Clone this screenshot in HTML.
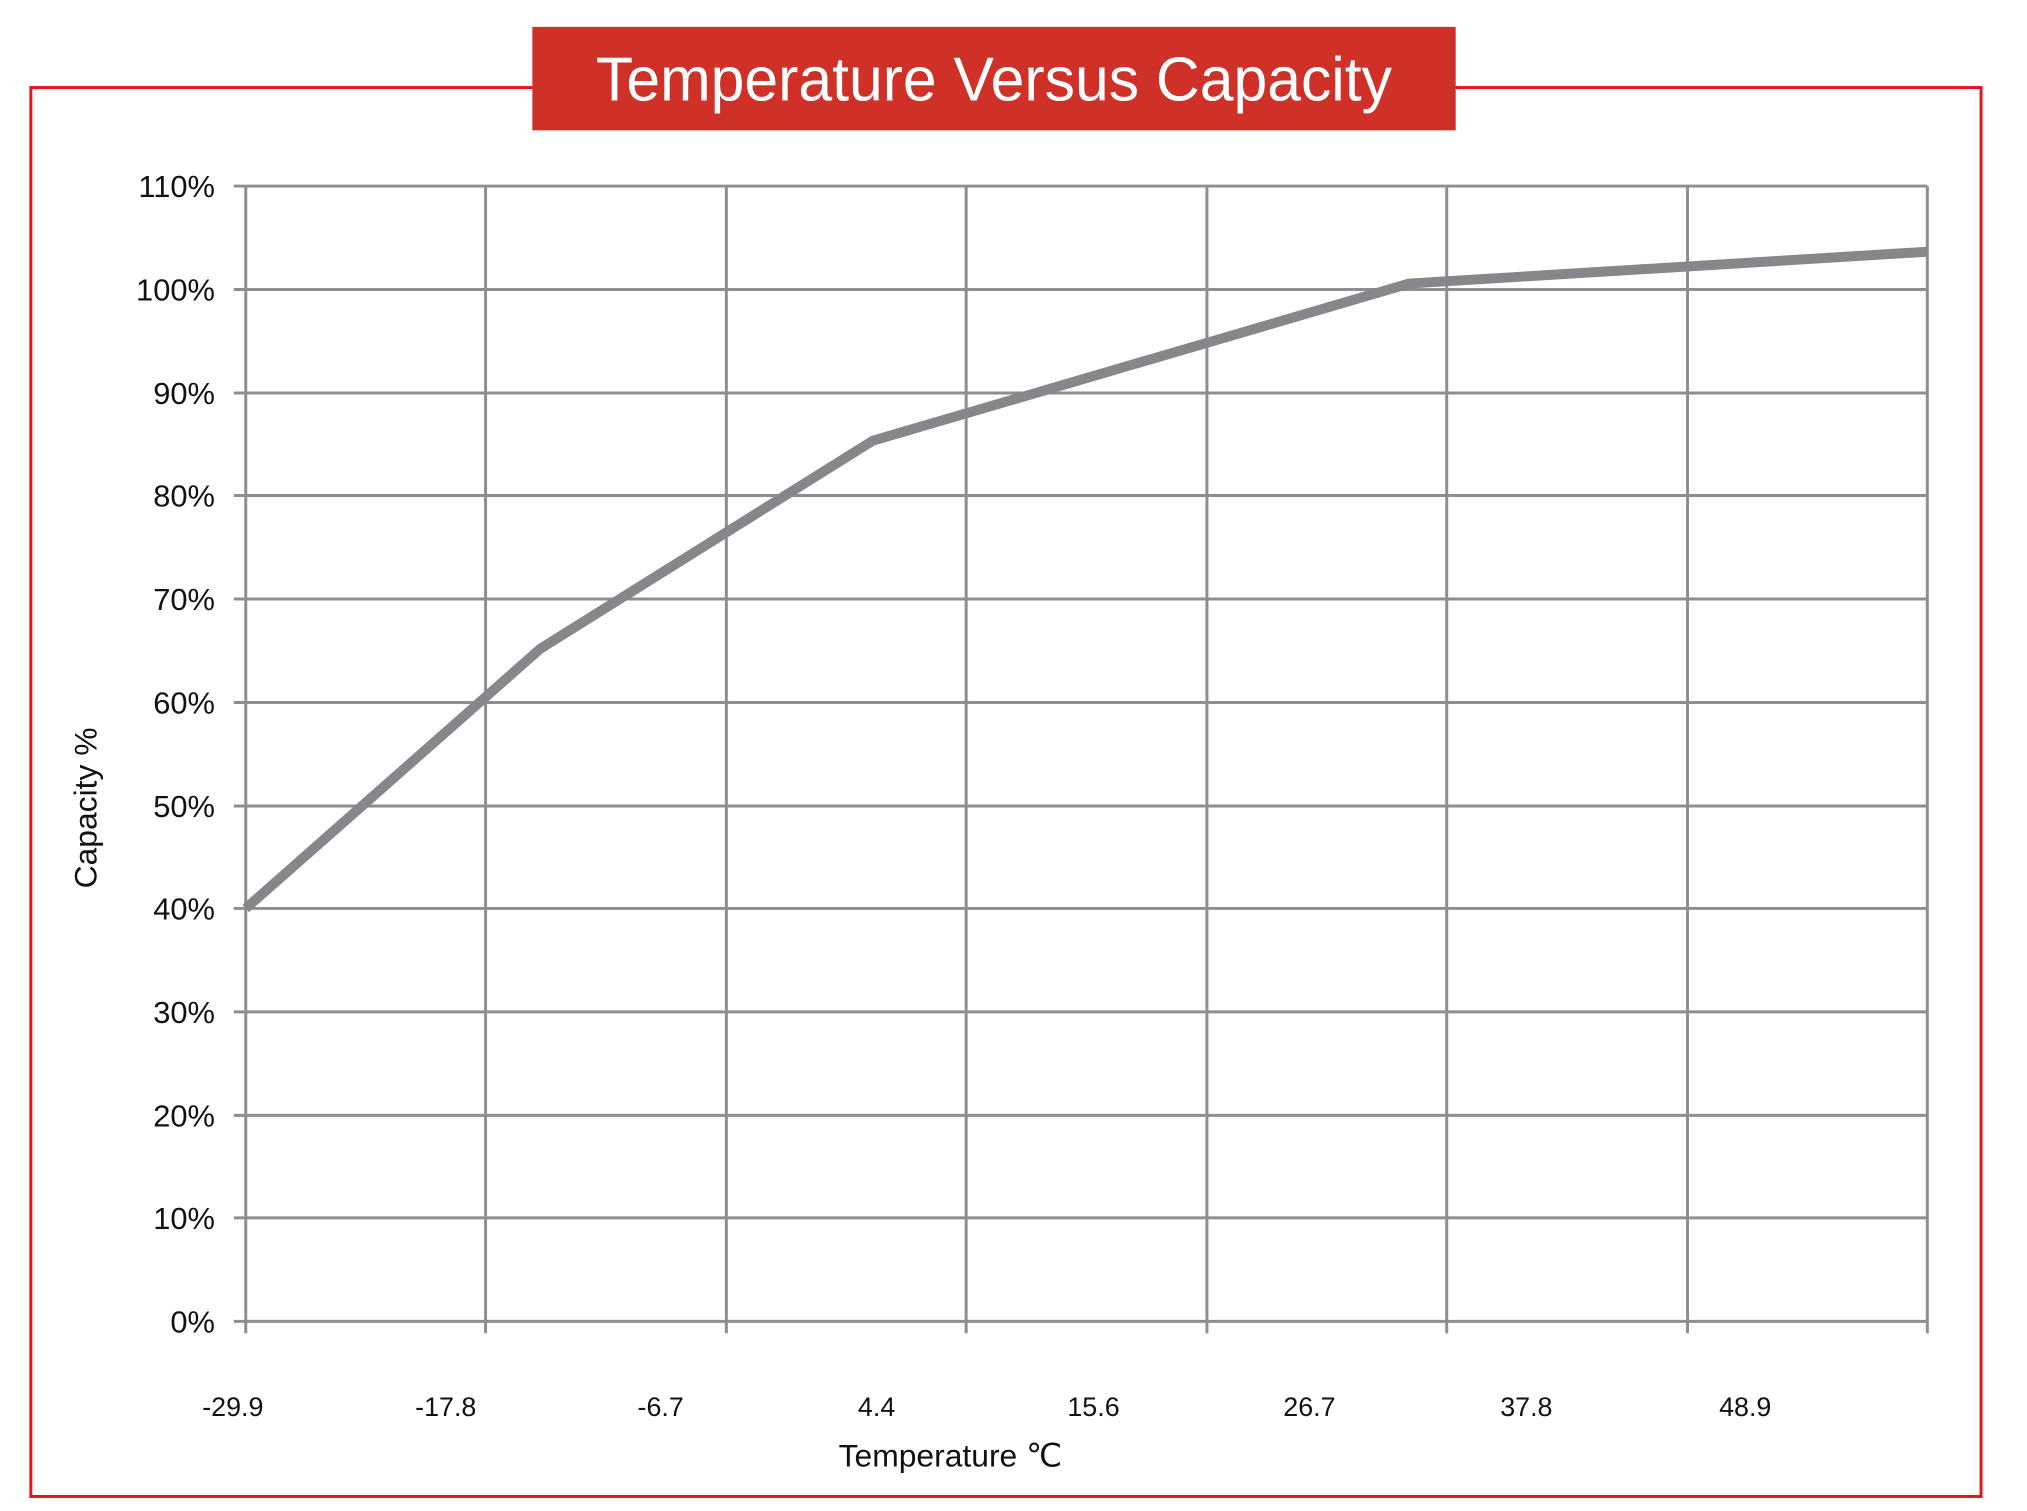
<!DOCTYPE html>
<html><head><meta charset="utf-8"><style>
html,body{margin:0;padding:0;background:#fff;}
svg{display:block;}
text{font-family:"Liberation Sans",sans-serif;fill:#111;}
</style></head><body>
<svg width="2027" height="1511" viewBox="0 0 2027 1511" xmlns="http://www.w3.org/2000/svg">
<g transform="scale(0.995)">
<rect x="31" y="88" width="1960" height="1416" fill="none" stroke="#e8141c" stroke-width="3"/>
<rect x="535" y="27" width="928" height="104" fill="#cf3128"/>
<text x="999" y="101" text-anchor="middle" font-size="62" style="fill:#fff" textLength="800" lengthAdjust="spacingAndGlyphs">Temperature Versus Capacity</text>
<g stroke="#8d8e91" stroke-width="3">
<line x1="235" y1="187" x2="1937" y2="187"/>
<line x1="235" y1="291" x2="1937" y2="291"/>
<line x1="235" y1="395" x2="1937" y2="395"/>
<line x1="235" y1="498" x2="1937" y2="498"/>
<line x1="235" y1="602" x2="1937" y2="602"/>
<line x1="235" y1="706" x2="1937" y2="706"/>
<line x1="235" y1="810" x2="1937" y2="810"/>
<line x1="235" y1="913" x2="1937" y2="913"/>
<line x1="235" y1="1017" x2="1937" y2="1017"/>
<line x1="235" y1="1121" x2="1937" y2="1121"/>
<line x1="235" y1="1224" x2="1937" y2="1224"/>
<line x1="235" y1="1328" x2="1937" y2="1328"/>
<line x1="247" y1="187" x2="247" y2="1340"/>
<line x1="488" y1="187" x2="488" y2="1340"/>
<line x1="730" y1="187" x2="730" y2="1340"/>
<line x1="971" y1="187" x2="971" y2="1340"/>
<line x1="1213" y1="187" x2="1213" y2="1340"/>
<line x1="1454" y1="187" x2="1454" y2="1340"/>
<line x1="1696" y1="187" x2="1696" y2="1340"/>
<line x1="1937" y1="187" x2="1937" y2="1340"/>
</g>
<polyline points="247,913 543,652 877,443 1416,285 1937,253" fill="none" stroke="#86878a" stroke-width="10" stroke-linejoin="round"/>
<g font-size="31" text-anchor="end">
<text x="216" y="198">110%</text>
<text x="216" y="302">100%</text>
<text x="216" y="406">90%</text>
<text x="216" y="509">80%</text>
<text x="216" y="613">70%</text>
<text x="216" y="717">60%</text>
<text x="216" y="821">50%</text>
<text x="216" y="924">40%</text>
<text x="216" y="1028">30%</text>
<text x="216" y="1132">20%</text>
<text x="216" y="1235">10%</text>
<text x="216" y="1339">0%</text>
</g>
<g font-size="27" text-anchor="middle">
<text x="234" y="1423">-29.9</text>
<text x="448" y="1423">-17.8</text>
<text x="664" y="1423">-6.7</text>
<text x="881" y="1423">4.4</text>
<text x="1099" y="1423">15.6</text>
<text x="1316" y="1423">26.7</text>
<text x="1534" y="1423">37.8</text>
<text x="1754" y="1423">48.9</text>
</g>
<text x="955" y="1474" font-size="32" text-anchor="middle">Temperature  ℃</text>
<text transform="translate(97,812) rotate(-90)" font-size="32" text-anchor="middle">Capacity %</text>
</g>
</svg>
</body></html>
